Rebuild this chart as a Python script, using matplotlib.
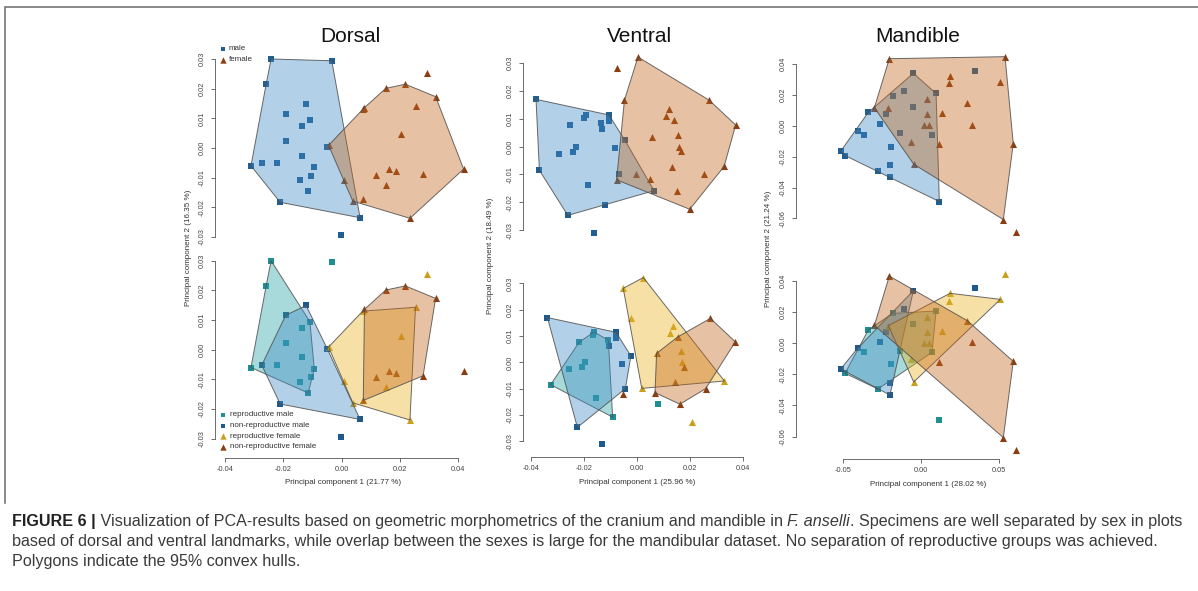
import matplotlib.pyplot as plt
from matplotlib.patches import Polygon
from matplotlib.colors import to_rgba

# ---- PCA scores (PC1, PC2), split by sex and reproductive state ----
# the last point of each group is the one left out of the 95 % hull
# dorsal
dor_rm_x = [-0.0242, -0.0259, -0.0311, -0.0115, -0.0094, -0.0109, -0.0135, -0.0192, -0.0223, -0.0137, -0.0105, -0.0144, -0.0034]
dor_rm_y = [0.0300, 0.0215, -0.0060, -0.0146, -0.0065, 0.0094, 0.0073, 0.0022, -0.0052, -0.0026, -0.0093, -0.0109, 0.0294]
dor_nm_x = [-0.0274, -0.0192, -0.0122, -0.0049, 0.0063, -0.0211, -0.0002]
dor_nm_y = [-0.0052, 0.0116, 0.0149, 0.0002, -0.0235, -0.0183, -0.0293]
dor_rf_x = [0.0253, 0.0072, 0.0202, -0.0045, 0.0153, 0.0008, 0.0038, 0.0234, 0.0294]
dor_rf_y = [0.0143, 0.0130, 0.0047, 0.0009, -0.0125, -0.0107, -0.0179, -0.0237, 0.0254]
dor_nf_x = [0.0151, 0.0218, 0.0322, 0.0078, 0.0163, 0.0186, 0.0118, 0.0279, 0.0074, 0.0418]
dor_nf_y = [0.0201, 0.0215, 0.0173, 0.0136, -0.0071, -0.0079, -0.0092, -0.0088, -0.0171, -0.0071]

# ventral
ven_rm_x = [-0.0326, -0.0218, -0.0258, -0.0208, -0.0196, -0.0167, -0.0162, -0.0108, -0.0155, -0.0092, 0.0081]
ven_rm_y = [-0.0085, 0.0077, -0.0025, -0.0018, 0.0000, 0.0103, 0.0115, 0.0084, -0.0137, -0.0208, -0.0158]
ven_nm_x = [-0.0338, -0.0225, -0.0104, -0.0079, -0.0079, -0.0057, -0.0023, -0.0044, -0.0133]
ven_nm_y = [0.0170, -0.0247, 0.0063, 0.0114, 0.0092, -0.0005, 0.0024, -0.0100, -0.0310]
ven_rf_x = [0.0024, -0.0052, -0.0024, 0.0135, 0.0125, 0.0167, 0.0170, 0.0330, 0.0018, 0.0208]
ven_rf_y = [0.0322, 0.0281, 0.0167, 0.0137, 0.0111, 0.0043, 0.0000, -0.0071, -0.0099, -0.0225]
ven_nf_x = [0.0153, 0.0277, 0.0371, 0.0074, 0.0177, 0.0145, 0.0068, 0.0259, 0.0162, -0.0052]
ven_nf_y = [0.0096, 0.0167, 0.0078, 0.0034, -0.0016, -0.0073, -0.0115, -0.0100, -0.0159, -0.0119]

# mandible
man_rm_x = [-0.0182, 0.0097, -0.0054, -0.0339, -0.0365, -0.0135, 0.0071, -0.0193, -0.0489, -0.0277, 0.0118]
man_rm_y = [0.0193, 0.0208, 0.0122, 0.0086, -0.0058, -0.0049, -0.0058, -0.0135, -0.0193, -0.0294, -0.0491]
man_nm_x = [-0.0049, -0.0107, -0.0227, -0.0264, -0.0408, -0.0517, -0.0197, -0.0200, 0.0350]
man_nm_y = [0.0339, 0.0221, 0.0075, 0.0009, -0.0032, -0.0165, -0.0253, -0.0333, 0.0354]
man_rf_x = [-0.0210, 0.0187, 0.0182, 0.0511, -0.0047, -0.0067, 0.0041, 0.0036, 0.0135, 0.0019, 0.0052, 0.0541]
man_rf_y = [0.0114, 0.0322, 0.0273, 0.0283, -0.0249, -0.0103, 0.0170, 0.0073, 0.0079, 0.0002, 0.0004, 0.0446]
man_nf_x = [-0.0204, -0.0300, 0.0298, 0.0326, 0.0116, 0.0594, 0.0530, 0.0612]
man_nf_y = [0.0433, 0.0116, 0.0146, 0.0006, -0.0120, -0.0116, -0.0607, -0.0685]

# points dropped from the pooled male / female hulls: (group, index)
dor_sex_skip = [("nm", 6), ("rf", 8)]
ven_sex_skip = [("nm", 8), ("rf", 1)]
man_sex_skip = [("nm", 8), ("nf", 7)]
# points dropped from the four group hulls
dor_grp_skip = {"rm": 12, "nm": 6, "rf": 8, "nf": 9}
ven_grp_skip = {"rm": 10, "nm": 8, "rf": 9, "nf": 9}
man_grp_skip = {"rm": 10, "nm": 8, "rf": 11, "nf": 7}

titles = ["Dorsal", "Ventral", "Mandible"]
pc1_labels = ["Principal component 1 (21.77 %)", "Principal component 1 (25.96 %)", "Principal component 1 (28.02 %)"]
pc2_labels = ["Principal component 2 (16.35 %)", "Principal component 2 (18.49 %)", "Principal component 2 (21.24 %)"]
yticks_dv = [-0.03, -0.02, -0.01, 0.0, 0.01, 0.02, 0.03]
xticks_dv = [-0.04, -0.02, 0.0, 0.02, 0.04]
yticks_m = [-0.06, -0.04, -0.02, 0.0, 0.02, 0.04]
xticks_m = [-0.05, 0.0, 0.05]
sex_names = ["male", "female"]
grp_names = ["reproductive male", "non-reproductive male", "reproductive female", "non-reproductive female"]

# ---- styling ----
W, H = 1198, 591
plt.rcParams['font.family'] = ['Liberation Sans', 'DejaVu Sans']
mk = {"m": "#1f5f93", "f": "#8b3d12", "rm": "#1e8f93", "nm": "#1d5a8e", "rf": "#c9a01e", "nf": "#8b3d12"}
fill = {"m": "#408cc6", "f": "#c3661b", "rm": "#26a3a6", "nm": "#408cc6", "rf": "#ecb320", "nf": "#c3661b"}
shape = {"m": "s", "f": "^", "rm": "s", "nm": "s", "rf": "^", "nf": "^"}
size = {"s": 14, "^": 26}
FA = 0.4
EDGE = "#4f4f4f"

views = [
    dict(g={"rm": (dor_rm_x, dor_rm_y), "nm": (dor_nm_x, dor_nm_y), "rf": (dor_rf_x, dor_rf_y), "nf": (dor_nf_x, dor_nf_y)},
         sex_skip=dor_sex_skip, grp_skip=dor_grp_skip, yt=yticks_dv, xt=xticks_dv),
    dict(g={"rm": (ven_rm_x, ven_rm_y), "nm": (ven_nm_x, ven_nm_y), "rf": (ven_rf_x, ven_rf_y), "nf": (ven_nf_x, ven_nf_y)},
         sex_skip=ven_sex_skip, grp_skip=ven_grp_skip, yt=yticks_dv, xt=xticks_dv),
    dict(g={"rm": (man_rm_x, man_rm_y), "nm": (man_nm_x, man_nm_y), "rf": (man_rf_x, man_rf_y), "nf": (man_nf_x, man_nf_y)},
         sex_skip=man_sex_skip, grp_skip=man_grp_skip, yt=yticks_m, xt=xticks_m),
]

# panel boxes in pixels (left, right, top, bottom) and data->pixel maps (x0, sx, y0, sy)
boxes = [
    [((215, 475, 45, 245), (341.7, 2917, 148.0, 2967)), ((215, 475, 250, 458.3), (341.7, 2917, 349.7, 2967))],
    [((523.3, 760, 45, 245), (631.2, 2816, 146.67, 2783)), ((523.3, 760, 265, 457.3), (637.0, 2650, 362.33, 2633))],
    [((796, 1075, 45, 245), (921.0, 1553.3, 125.67, 1546.7)), ((796, 1075, 265, 459), (921.0, 1553.3, 343.33, 1553.3))],
]
title_x = [350.5, 639, 918]
pc2_pos = [(188, 248), (491, 256), (768, 249)]
pc1_pos = [(343, 482), (637, 483), (928, 485)]


def convex_hull(xs, ys):
    pts = sorted(set(zip(xs, ys)))

    def cross(o, a, b):
        return (a[0] - o[0]) * (b[1] - o[1]) - (a[1] - o[1]) * (b[0] - o[0])

    lower, upper = [], []
    for p in pts:
        while len(lower) >= 2 and cross(lower[-2], lower[-1], p) <= 0:
            lower.pop()
        lower.append(p)
    for p in reversed(pts):
        while len(upper) >= 2 and cross(upper[-2], upper[-1], p) <= 0:
            upper.pop()
        upper.append(p)
    return lower[:-1] + upper[:-1]


def make_axes(box, mp, yt, xt):
    (L, R, T, B), (x0, sx, y0, sy) = box, mp
    ax = fig.add_axes([L / W, 1 - B / H, (R - L) / W, (B - T) / H])
    ax.set_xlim((L - x0) / sx, (R - x0) / sx)
    ax.set_ylim((y0 - B) / sy, (y0 - T) / sy)
    ax.patch.set_alpha(0)
    for s in ["top", "right"]:
        ax.spines[s].set_visible(False)
    ax.spines["left"].set_bounds(yt[0], yt[-1])
    ax.spines["left"].set_color("#555555")
    ax.spines["left"].set_linewidth(0.6)
    ax.set_yticks(yt)
    ax.set_yticklabels([f"{t:.2f}" for t in yt], rotation=90, va="center", fontsize=5.3, color="#444444")
    ax.tick_params(axis="y", length=3.1, width=0.6, color="#555555", pad=3.6)
    if xt is None:
        ax.spines["bottom"].set_visible(False)
        ax.set_xticks([])
    else:
        ax.spines["bottom"].set_bounds(xt[0], xt[-1])
        ax.spines["bottom"].set_color("#555555")
        ax.spines["bottom"].set_linewidth(0.6)
        ax.set_xticks(xt)
        ax.set_xticklabels([f"{t:.2f}" for t in xt], fontsize=5.3, color="#444444")
        ax.tick_params(axis="x", length=3.1, width=0.6, color="#555555", pad=2.6)
    return ax


def draw_hull(ax, xs, ys, key):
    pts = convex_hull(xs, ys)
    ax.add_patch(Polygon(pts, closed=True, facecolor=to_rgba(fill[key], FA),
                         edgecolor=to_rgba(EDGE, 0.85), linewidth=0.7, zorder=3, clip_on=False))


fig = plt.figure(figsize=(W / 100, H / 100), dpi=100)

for v, (top_box, bot_box), in zip(views, boxes):
    g = v["g"]
    # top row: pooled by sex
    ax = make_axes(*top_box, v["yt"], None)
    for sex, keys in (("m", ("rm", "nm")), ("f", ("rf", "nf"))):
        xs, ys, hx, hy = [], [], [], []
        for k in keys:
            gx, gy = g[k]
            xs += gx
            ys += gy
            for i, (a, b) in enumerate(zip(gx, gy)):
                if (k, i) not in v["sex_skip"]:
                    hx.append(a)
                    hy.append(b)
        ax.scatter(xs, ys, marker=shape[sex], s=size[shape[sex]], color=mk[sex], linewidths=0, zorder=2, clip_on=False)
        draw_hull(ax, hx, hy, sex)
    # bottom row: four groups
    ax = make_axes(*bot_box, v["yt"], v["xt"])
    for k in ("rm", "nm", "rf", "nf"):
        gx, gy = g[k]
        ax.scatter(gx, gy, marker=shape[k], s=size[shape[k]], color=mk[k], linewidths=0, zorder=2, clip_on=False)
    for k in ("rm", "nm", "rf", "nf"):
        gx, gy = g[k]
        skip = v["grp_skip"][k]
        draw_hull(ax, [a for i, a in enumerate(gx) if i != skip], [b for i, b in enumerate(gy) if i != skip], k)

# ---- overlay: titles, axis labels, legends, frame, caption ----
ov = fig.add_axes([0, 0, 1, 1])
ov.set_xlim(0, W)
ov.set_ylim(H, 0)
ov.axis("off")

for t, x in zip(titles, title_x):
    ov.text(x, 37, t, fontsize=15, ha="center", va="center", color="#111111")
for t, (x, y) in zip(pc2_labels, pc2_pos):
    ov.text(x, y, t, fontsize=5.8, rotation=90, ha="center", va="center", color="#333333")
for t, (x, y) in zip(pc1_labels, pc1_pos):
    ov.text(x, y, t, fontsize=5.8, ha="center", va="center", color="#333333")

for i, (name, key) in enumerate(zip(sex_names, ("m", "f"))):
    y = 48.5 + i * 11
    ov.scatter([222.7], [y], marker=shape[key], s=size[shape[key]] * 0.8, color=mk[key], linewidths=0)
    ov.text(228.5, y, name, fontsize=5.8, va="center", color="#333333")
for i, (name, key) in enumerate(zip(grp_names, ("rm", "nm", "rf", "nf"))):
    y = 415 + i * 10.6
    ov.scatter([223], [y], marker=shape[key], s=size[shape[key]] * 0.8, color=mk[key], linewidths=0)
    ov.text(229.5, y, name, fontsize=5.8, va="center", color="#333333")

# frame: top rule and left edge of the figure panel
ov.plot([5, 5, W], [503, 7, 7], color="#6a6a6a", lw=1.1, solid_joinstyle="miter")

# caption, sized so the first line runs across the full width
fig.canvas.draw()
rend = fig.canvas.get_renderer()

cap_lines = [
    (526, [("FIGURE 6 |", dict(fontweight="bold", color="#222222")),
           (" Visualization of PCA-results based on geometric morphometrics of the cranium and mandible in ", {}),
           ("F. anselli", dict(style="italic")),
           (". Specimens are well separated by sex in plots", {})]),
    (546, [("based of dorsal and ventral landmarks, while overlap between the sexes is large for the mandibular dataset. "
            "No separation of reproductive groups was achieved.", {})]),
    (566, [("Polygons indicate the 95% convex hulls.", {})]),
]


def text_run(x, y, pieces, fs):
    made = []
    for txt, kw in pieces:
        style = dict(fontsize=fs, va="baseline", ha="left", color="#3a3a3a")
        style.update(kw)
        t = ov.text(x, y, txt, **style)
        x += t.get_window_extent(renderer=rend).width
        made.append(t)
    return x, made


end, tmp = text_run(12, cap_lines[0][0], cap_lines[0][1], 10.0)
for t in tmp:
    t.remove()
cap_fs = 10.0 * (1183 - 12) / (end - 12)
for y, pieces in cap_lines:
    text_run(12, y, pieces, cap_fs)

fig.savefig("out.png", dpi=100)
